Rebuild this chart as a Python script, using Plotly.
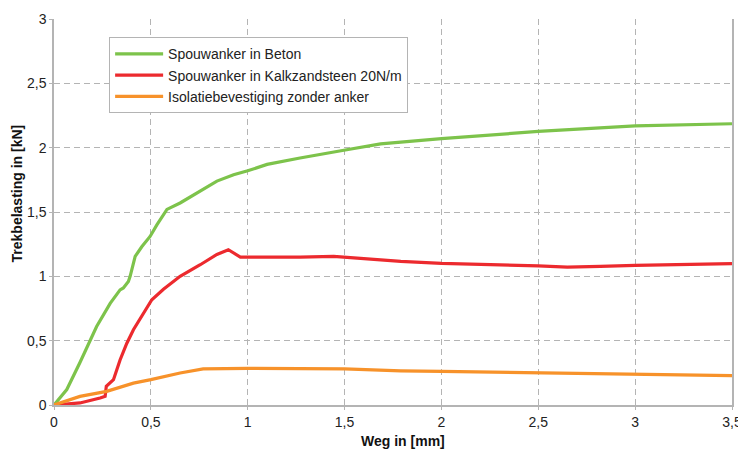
import plotly.graph_objects as go

series_names = ["Spouwanker in Beton", "Spouwanker in Kalkzandsteen 20N/m", "Isolatiebevestiging zonder anker"]
x_title = "Weg in [mm]"
y_title = "Trekbelasting in [kN]"

beton_x = [0, 0.066, 0.134, 0.22, 0.29, 0.341, 0.358, 0.384, 0.393, 0.419, 0.453, 0.496, 0.531, 0.583, 0.651, 0.755, 0.841, 0.927, 1.0, 1.10, 1.27, 1.496, 1.686, 2.0, 2.5, 3.0, 3.5]
beton_y = [0, 0.12, 0.33, 0.61, 0.79, 0.895, 0.91, 0.96, 1.0, 1.155, 1.23, 1.31, 1.40, 1.52, 1.57, 1.66, 1.74, 1.79, 1.82, 1.87, 1.92, 1.98, 2.03, 2.07, 2.126, 2.17, 2.186]

kzs_x = [0, 0.134, 0.238, 0.264, 0.27, 0.307, 0.341, 0.376, 0.41, 0.462, 0.505, 0.565, 0.651, 0.755, 0.841, 0.90, 0.927, 0.962, 1.27, 1.444, 1.79, 2.0, 2.5, 2.65, 2.82, 3.0, 3.5]
kzs_y = [0, 0.016, 0.054, 0.067, 0.145, 0.197, 0.35, 0.48, 0.585, 0.715, 0.818, 0.90, 1.0, 1.09, 1.17, 1.207, 1.18, 1.15, 1.15, 1.155, 1.116, 1.10, 1.082, 1.072, 1.077, 1.085, 1.098]

iso_x = [0, 0.134, 0.272, 0.41, 0.50, 0.651, 0.77, 1.0, 1.5, 1.79, 2.0, 2.5, 3.0, 3.5]
iso_y = [0, 0.067, 0.106, 0.17, 0.197, 0.249, 0.28, 0.285, 0.28, 0.265, 0.261, 0.249, 0.235, 0.228]

colors = ["#7dc34b", "#ec2a2e", "#f7922a"]

fig = go.Figure()
for name, xs, ys, c in zip(series_names, [beton_x, kzs_x, iso_x], [beton_y, kzs_y, iso_y], colors):
    fig.add_trace(go.Scatter(x=xs, y=ys, mode="lines", name=name,
                             line=dict(color=c, width=3.2)))

grid = dict(showgrid=True, gridcolor="#b4b4b4", griddash="6px,4px", gridwidth=1,
            showline=True, linecolor="#b4b4b4", linewidth=1.5,
            ticks="outside", ticklen=3, tickcolor="#b4b4b4",
            tickfont=dict(family="Liberation Sans, Arial", size=14, color="#222"),
            zeroline=False, automargin=False)

title_font = dict(family="Liberation Sans, Arial", size=14, color="#111")

# page body has an 8px margin, so the figure is sized to fit the visible window
fig.update_layout(
    width=738, height=442,
    paper_bgcolor="white", plot_bgcolor="white",
    separators=",.",
    margin=dict(l=46, r=14, t=11, b=45),
    font=dict(family="Liberation Sans, Arial", size=14, color="#222"),
    xaxis=dict(range=[0, 3.5], dtick=0.5, tick0=0, **grid),
    yaxis=dict(range=[0, 3], dtick=0.5, tick0=0, mirror=True, **grid),
    legend=dict(x=0.081, y=0.953, xanchor="left", yanchor="top",
                bgcolor="white", bordercolor="#b4b4b4", borderwidth=1.2,
                font=dict(size=14), tracegroupgap=0, itemwidth=48),
    showlegend=True,
    annotations=[
        dict(text="<b>" + x_title + "</b>", xref="paper", yref="paper",
             x=0.515, y=-0.093, xanchor="center", yanchor="middle",
             showarrow=False, font=title_font),
        dict(text="<b>" + y_title + "</b>", xref="paper", yref="paper",
             x=-0.0546, y=0.548, xanchor="center", yanchor="middle",
             textangle=-90, showarrow=False, font=title_font),
    ],
)

fig.write_html("out.html")
